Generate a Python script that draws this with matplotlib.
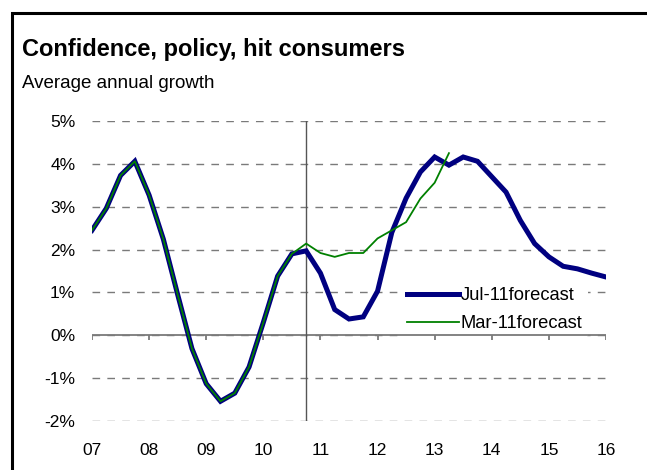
import numpy as np
import matplotlib
matplotlib.use("Agg")
import matplotlib.pyplot as plt
from matplotlib.patches import Rectangle

plt.rcParams['font.family'] = ['Liberation Sans', 'DejaVu Sans']
plt.rcParams['lines.scale_dashes'] = False

# quarterly, 2007Q1 .. 2016Q1
START_YEAR = 2007
jul11 = [2.45, 2.96, 3.73, 4.06,
         3.27, 2.24, 0.95, -0.31,
         -1.13, -1.54, -1.35, -0.74,
         0.30, 1.38, 1.90, 1.97,
         1.45, 0.60, 0.38, 0.43,
         1.03, 2.40, 3.20, 3.81,
         4.16, 3.97, 4.16, 4.06,
         3.70, 3.34, 2.68, 2.14,
         1.83, 1.61, 1.55, 1.45,
         1.36]
mar11 = [2.45, 2.96, 3.73, 4.06,
         3.27, 2.24, 0.95, -0.31,
         -1.13, -1.54, -1.35, -0.74,
         0.30, 1.38, 1.90, 2.14,
         1.92, 1.83, 1.92, 1.92,
         2.26, 2.45, 2.64, 3.19,
         3.56, 4.25]
forecast_start = 2010.75

year_ticks = list(range(2007, 2017))
year_labels = ['07', '08', '09', '10', '11', '12', '13', '14', '15', '16']
y_ticks = [-2, -1, 0, 1, 2, 3, 4, 5]

series_labels = ['Jul-11forecast', 'Mar-11forecast']
BLUE = '#000080'
GREEN = '#008000'
GREY = '#7a7a7a'

t_jul = START_YEAR + np.arange(len(jul11)) * 0.25
t_mar = START_YEAR + np.arange(len(mar11)) * 0.25

fig = plt.figure(figsize=(6.47, 4.70), dpi=100)
W, H = 647, 470
ax = fig.add_axes([92 / W, 1 - 421 / H, (606 - 92) / W, (421 - 121) / H])

ax.set_xlim(2007, 2016)
ax.set_ylim(-2, 5)

# dashed grid, solid zero line with year ticks hanging below it
ax.set_yticks(y_ticks)
ax.set_yticklabels([f'{v}%' for v in y_ticks])
ax.grid(axis='y', color=GREY, linestyle=(0, (5.5, 5.2)), lw=1.0, zorder=1)
ax.axhline(0, color=GREY, lw=1.3, zorder=2)
ax.vlines(year_ticks, -0.12, 0, color=GREY, lw=1.3, zorder=2)
ax.axvline(forecast_start, color='#555555', lw=1.0, zorder=2)

ax.plot(t_jul, jul11, color=BLUE, lw=3.6, solid_joinstyle='miter',
        label=series_labels[0], zorder=3)
ax.plot(t_mar, mar11, color=GREEN, lw=1.3, label=series_labels[1], zorder=4)

ax.set_xticks(year_ticks)
ax.set_xticklabels(year_labels)
ax.tick_params(axis='both', length=0, labelsize=12.5, colors='black')
ax.tick_params(axis='x', pad=16)
ax.tick_params(axis='y', pad=12)
for s in ax.spines.values():
    s.set_visible(False)

# legend box hides the grid but sits under the zero line
leg = ax.legend(loc='upper left', bbox_to_anchor=(0.603, 0.465),
                borderaxespad=0, frameon=True, fontsize=13.2,
                handlelength=2.8, handletextpad=0.12, labelspacing=0.6,
                borderpad=0.3)
leg.get_frame().set_facecolor('white')
leg.get_frame().set_edgecolor('none')
leg.get_frame().set_alpha(1)
leg.set_zorder(1.5)

fig.text(22 / W, 1 - 56 / H, 'Confidence, policy, hit consumers',
         fontsize=17, fontweight='bold', va='baseline', ha='left')
fig.text(22 / W, 1 - 88 / H, 'Average annual growth',
         fontsize=13.5, va='baseline', ha='left')

# black frame around the whole chart
fig.patches.append(Rectangle((11.5 / W, -0.1), 1.2, 1 - 12.5 / H + 0.1,
                             transform=fig.transFigure, fill=False,
                             edgecolor='black', lw=2.2))

fig.savefig('out.png', dpi=100)
